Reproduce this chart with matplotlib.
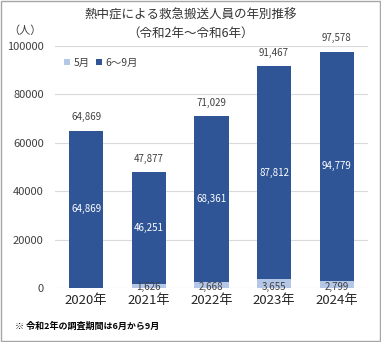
import numpy as np
import matplotlib
matplotlib.use('Agg')
import matplotlib.pyplot as plt
from matplotlib.patches import Rectangle

plt.rcParams['font.family'] = ['Noto Sans CJK JP', 'DejaVu Sans']

years = ['2020年', '2021年', '2022年', '2023年', '2024年']
may = [0, 1626, 2668, 3655, 2799]
jun_sep = [64869, 46251, 68361, 87812, 94779]
totals = [64869, 47877, 71029, 91467, 97578]

c_may = '#b4c7e7'
c_main = '#2f5597'
txt = '#404040'

fig = plt.figure(figsize=(3.81, 3.42), dpi=100)
ax = fig.add_axes([0.144, 0.158, 0.822, 0.708])

x = np.arange(len(years))
w = 0.55
ax.bar(x, may, w, color=c_may, label='5月', zorder=2)
ax.bar(x, jun_sep, w, bottom=may, color=c_main, label='6～9月', zorder=2)

for i in range(len(years)):
    ax.text(x[i], totals[i] + 3500, f'{totals[i]:,}', ha='center', va='bottom',
            fontsize=7, color=txt, clip_on=False)
    ax.text(x[i], may[i] + jun_sep[i] / 2, f'{jun_sep[i]:,}', ha='center', va='center',
            fontsize=7, color='white')
    if may[i] > 0:
        ax.text(x[i], 300, f'{may[i]:,}', ha='center', va='center',
                fontsize=7, color=txt)

ax.set_xlim(-0.5, 4.5)
ax.set_ylim(0, 100000)
ax.set_yticks(np.arange(0, 100001, 20000))
ax.set_xticks(x)
ax.set_xticklabels(years, fontsize=9.5, color='#262626')
ax.tick_params(axis='y', labelsize=8, colors='#404040', length=0, pad=8)
ax.tick_params(axis='x', length=0, pad=4)
ax.grid(True, axis='y', color='#d9d9d9', linewidth=0.8, zorder=0)
for s in ax.spines.values():
    s.set_visible(False)

ax.legend(loc='upper left', bbox_to_anchor=(0.0, 0.99), frameon=False, fontsize=7.5,
          handlelength=0.6, handleheight=0.6, handletextpad=0.3, columnspacing=0.6,
          ncol=2, labelcolor=txt)

fig.text(0.5, 0.955, '熱中症による救急搬送人員の年別推移', ha='center', va='center',
         fontsize=9, color='#333333')
fig.text(0.5, 0.903, '（令和2年～令和6年）', ha='center', va='center',
         fontsize=9, color='#333333')
fig.text(0.065, 0.91, '（人）', ha='center', va='center', fontsize=8, color='#404040')
fig.text(0.04, 0.045, '※ 令和2年の調査期間は6月から9月', ha='left', va='center',
         fontsize=6.5, fontweight='bold', color='black')

fig.patches.append(Rectangle((0.003, 0.003), 0.994, 0.994, transform=fig.transFigure,
                             fill=False, edgecolor='#a6a6a6', linewidth=1))

plt.savefig('out.png', dpi=100)
plt.close()
